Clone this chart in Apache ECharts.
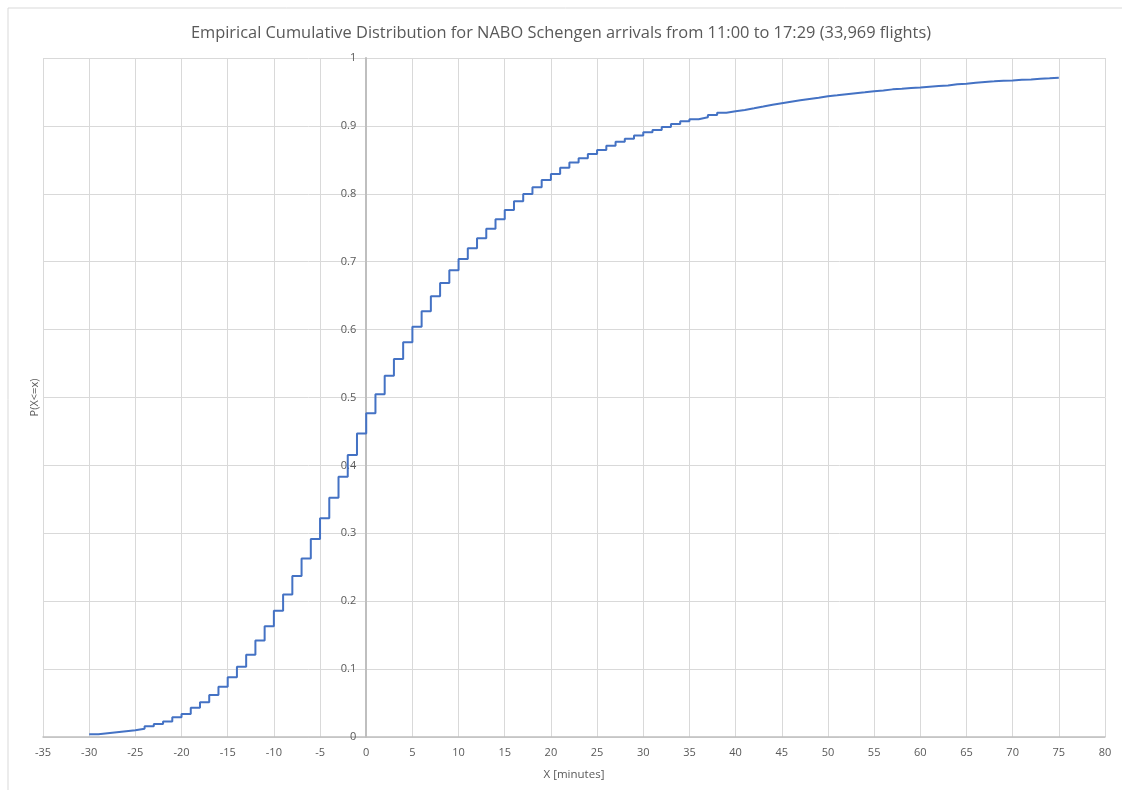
<!DOCTYPE html>
<html>
<head>
<meta charset="utf-8">
<title>ECDF NABO Schengen arrivals</title>
<script src="https://cdn.jsdelivr.net/npm/echarts@6/dist/echarts.min.js"></script>
<style>
    html, body { margin: 0; padding: 0; background: #fff; }
    .chart { width: 1122px; height: 790px; }
</style>
</head>
<body>
<div class="chart"></div>
<script>
// 数据：延误分钟 与 累计概率
var minutes = [
    -30, -29, -28, -27, -26, -25, -24, -23, -22, -21,
    -20, -19, -18, -17, -16, -15, -14, -13, -12, -11,
    -10, -9, -8, -7, -6, -5, -4, -3, -2, -1,
    0, 1, 2, 3, 4, 5, 6, 7, 8, 9,
    10, 11, 12, 13, 14, 15, 16, 17, 18, 19,
    20, 21, 22, 23, 24, 25, 26, 27, 28, 29,
    30, 31, 32, 33, 34, 35, 36, 37, 38, 39,
    40, 41, 42, 43, 44, 45, 46, 47, 48, 49,
    50, 51, 52, 53, 54, 55, 56, 57, 58, 59,
    60, 61, 62, 63, 64, 65, 66, 67, 68, 69,
    70, 71, 72, 73, 74, 75
];
var cdf = [
    0.004, 0.0055, 0.007, 0.0085, 0.010, 0.012, 0.016, 0.019, 0.023, 0.029,
    0.034, 0.043, 0.051, 0.062, 0.074, 0.088, 0.1035, 0.121, 0.142, 0.163,
    0.186, 0.210, 0.237, 0.263, 0.2916, 0.322, 0.3525, 0.3834, 0.4153, 0.447,
    0.4767, 0.5047, 0.532, 0.5567, 0.5813, 0.6043, 0.627, 0.649, 0.6686, 0.6873,
    0.704, 0.7197, 0.7344, 0.7486, 0.7624, 0.776, 0.789, 0.7997, 0.8096, 0.8203,
    0.829, 0.8385, 0.846, 0.8522, 0.8586, 0.8645, 0.8708, 0.8767, 0.8812, 0.886,
    0.8905, 0.894, 0.8984, 0.9028, 0.9067, 0.9097, 0.9126, 0.916, 0.9195, 0.9215,
    0.9234, 0.9259, 0.9285, 0.9312, 0.9335, 0.9357, 0.9377, 0.9396, 0.9415, 0.9436,
    0.945, 0.9465, 0.948, 0.9494, 0.9512, 0.9523, 0.9538, 0.9547, 0.9558, 0.9567,
    0.9577, 0.9587, 0.9595, 0.9612, 0.9622, 0.9637, 0.9647, 0.9656, 0.9666, 0.967,
    0.968, 0.9685, 0.9695, 0.970, 0.971, 0.971
];
var xTicks = { min: -35, max: 80, interval: 5 };
var yTicks = { min: 0, max: 1, interval: 0.1 };

(function () {
    var myChart = echarts.init(document.querySelector(".chart"));

    var points = minutes.map(function (m, i) {
        return [m, cdf[i]];
    });

    var textColor = "#595959";
    var gridColor = "#d9d9d9";
    var gridLeft = 43;

    var option = {
        animation: false,
        title: {
            text: "Empirical Cumulative Distribution for NABO Schengen arrivals from 11:00 to 17:29 (33,969 flights)",
            left: "center",
            top: 20,
            textStyle: {
                fontFamily: "Open Sans",
                fontSize: 16.4,
                fontWeight: "normal",
                color: textColor
            }
        },
        // 外框
        graphic: [{
            type: "rect",
            shape: { x: 8, y: 8, width: 1140, height: 820 },
            style: { fill: "none", stroke: gridColor, lineWidth: 1 },
            silent: true
        }],
        grid: {
            left: gridLeft,
            right: 17,
            top: 58,
            bottom: 53,
            containLabel: false,
            outerBoundsMode: "none"
        },
        xAxis: {
            type: "value",
            min: xTicks.min,
            max: xTicks.max,
            interval: xTicks.interval,
            name: "X [minutes]",
            nameLocation: "middle",
            nameGap: 32,
            nameTextStyle: { color: textColor, fontSize: 11.5, fontFamily: "Open Sans" },
            axisLine: {
                onZero: true,
                lineStyle: { color: "#bfbfbf", width: 1.5 }
            },
            axisTick: { show: false },
            axisLabel: {
                color: textColor,
                fontSize: 11,
                fontFamily: "Open Sans",
                margin: 10
            },
            splitLine: {
                lineStyle: { color: gridColor, width: 1 }
            }
        },
        yAxis: {
            type: "value",
            min: yTicks.min,
            max: yTicks.max,
            interval: yTicks.interval,
            offset: 0,
            name: "P(X<=x)",
            nameLocation: "middle",
            nameGap: 326,
            nameRotate: 90,
            nameTextStyle: { color: textColor, fontSize: 11, fontFamily: "Open Sans" },
            axisLine: {
                show: true,
                onZero: false,
                lineStyle: { color: "#bfbfbf", width: 2 }
            },
            axisTick: { show: false },
            axisLabel: {
                color: textColor,
                fontSize: 11,
                fontFamily: "Open Sans",
                margin: 10,
                formatter: function (v) {
                    return String(Math.round(v * 10) / 10);
                }
            },
            splitLine: {
                lineStyle: { color: gridColor, width: 1 }
            }
        },
        series: [{
            name: "ECDF",
            type: "line",
            step: "end",
            data: points,
            showSymbol: false,
            lineStyle: { color: "#4472C4", width: 2 },
            itemStyle: { color: "#4472C4" }
        }]
    };

    myChart.setOption(option);

    // y轴移到 x=0 处（标签一起移动）
    var zeroX = myChart.convertToPixel({ xAxisIndex: 0 }, 0);
    myChart.setOption({
        yAxis: { offset: -(zeroX - gridLeft) }
    });

    window.addEventListener("resize", function () {
        myChart.resize();
    });
})();
</script>
</body>
</html>
